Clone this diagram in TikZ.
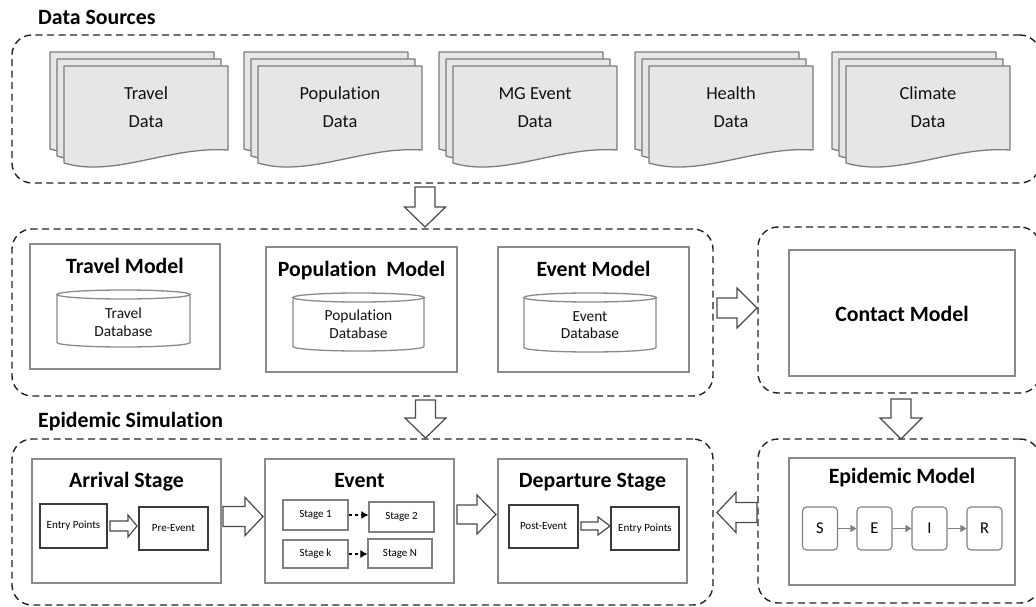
\documentclass[tikz,border=0pt]{standalone}
\usepackage{fontspec}
\setmainfont{Carlito}[Ligatures=NoCommon]
\usetikzlibrary{arrows.meta}

\definecolor{groupline}{HTML}{222222}
\definecolor{panelline}{HTML}{8A8A8A}
\definecolor{docline}{HTML}{7C7C7C}
\definecolor{docfill}{HTML}{E6E6E6}
\definecolor{arrowline}{HTML}{4A4A4A}
\definecolor{darkbox}{HTML}{3A3A3A}
\definecolor{stageline}{HTML}{808080}
\definecolor{inktext}{HTML}{111111}

% one sheet of a document stack: top-left corner (#1,#2), wavy lower edge
\newcommand{\docsheet}[2]{%
  \draw[docsheet] (#1,#2) -- (#1+164,#2) -- (#1+164,#2+84)
    .. controls (#1+105,#2+80) and (#1+50,#2+112) .. (#1,#2+97) -- cycle;}
% stack of three sheets; #1 name, #2 left x of front sheet, #3/#4 the two text lines
\newcommand{\docstack}[4]{%
  \docsheet{#2-14}{52}\docsheet{#2-7}{59}\docsheet{#2}{66}%
  \node[doctext] (#1-a) at (#2+82,100) {#3};
  \node[doctext] (#1-b) at (#2+82,128) {#4};}
% database cylinder: centre x, x radius, y of top rim, y of bottom rim
\newcommand{\dbcyl}[4]{%
  \draw[cyl] (#1-#2,#3) -- (#1-#2,#4)
    arc[start angle=180,end angle=360,x radius=#2pt,y radius=4.5pt] -- (#1+#2,#3);
  \draw[cyl] (#1,#3) ellipse[x radius=#2pt,y radius=4.5pt];}
% horizontal block arrow: tail x, head base x, tip x, centre y, shaft half width, head half width
\newcommand{\hblock}[6]{%
  \draw[blockarrow] (#1,#4-#5) -- (#2,#4-#5) -- (#2,#4-#6) -- (#3,#4)
    -- (#2,#4+#6) -- (#2,#4+#5) -- (#1,#4+#5) -- cycle;}
% vertical block arrow: centre x, tail y, head base y, tip y, shaft half width, head half width
\newcommand{\vblock}[6]{%
  \draw[blockarrow] (#1-#5,#2) -- (#1-#5,#3) -- (#1-#6,#3) -- (#1,#4)
    -- (#1+#6,#3) -- (#1+#5,#3) -- (#1+#5,#2) -- cycle;}

\begin{document}
\begin{tikzpicture}[x=1pt,y=-1pt,
  group/.style={draw=groupline,line width=1.4pt,dash pattern=on 7pt off 4.5pt,
    rounded corners=20pt,minimum width=#1},
  panel/.style={draw=panelline,line width=1.4pt,inner sep=0pt},
  heading/.style={font=\fontsize{21.8}{26}\selectfont\bfseries,text=black,inner sep=0pt},
  doctext/.style={font=\fontsize{18.4}{22}\selectfont,text=inktext,inner sep=0pt,anchor=base},
  dbtext/.style={font=\fontsize{15.4}{18}\selectfont,text=inktext,inner sep=0pt,anchor=base},
  docsheet/.style={draw=docline,fill=docfill,line width=1.3pt,line join=round},
  cyl/.style={draw=panelline,fill=white,line width=1.3pt},
  blockarrow/.style={draw=arrowline,fill=white,line width=1.2pt,line join=miter},
  innerbox/.style={draw=darkbox,line width=1.3pt,inner sep=0pt,
    font=\fontsize{11}{13}\selectfont},
  stagebox/.style={draw=stageline,line width=1.2pt,inner sep=0pt,
    font=\fontsize{11}{13}\selectfont},
  stagelink/.style={draw=black,line width=1.1pt,dash pattern=on 3.5pt off 2.5pt,
    -{Latex[length=7pt,width=8pt]}},
  seirbox/.style={draw=stageline,line width=1.1pt,rounded corners=4pt,inner sep=0pt,
    minimum width=35pt,minimum height=43pt,font=\fontsize{16.5}{19}\selectfont},
  seirlink/.style={draw=stageline,line width=1.2pt,-{Triangle[length=6pt,width=7pt]}},
]
\useasboundingbox (0,0) rectangle (1036,607);

% ---------- dashed groups ----------
\node[group=1028pt,minimum height=148pt] (sources) at (526,109) {};
\node[group=701pt,minimum height=167pt] (models) at (362.5,312.5) {};
\node[group=282pt,minimum height=166pt] (contactgrp) at (899,310) {};
\node[group=701pt,minimum height=166pt] (simgrp) at (362.5,522) {};
\node[group=282pt,minimum height=164pt] (epigrp) at (899,521) {};

\node[heading,anchor=base west] (srctitle) at (38,25) {Data Sources};
\node[heading,anchor=base west] (simtitle) at (38,427) {Epidemic Simulation};

% ---------- data sources ----------
\docstack{travel}{64}{Travel}{Data}
\docstack{population}{258}{Population}{Data}
\docstack{mgevent}{453}{MG Event}{Data}
\docstack{health}{649}{Health}{Data}
\docstack{climate}{846}{Climate}{Data}

% ---------- models ----------
\node[panel,minimum width=190pt,minimum height=125pt] (travelm) at (125,306.5) {};
\node[panel,minimum width=191pt,minimum height=125pt] (popm) at (361.5,309.5) {};
\node[panel,minimum width=191pt,minimum height=125pt] (eventm) at (593.5,309.5) {};
\node[heading,anchor=base] (travelm-t) at (125,273) {Travel Model};
\node[heading,anchor=base] (popm-t) at (361.5,276) {Population~ Model};
\node[heading,anchor=base] (eventm-t) at (593.5,276) {Event Model};

\dbcyl{123.5}{66.5}{294.5}{342.5}
\node[dbtext] (traveldb-a) at (123.5,318) {Travel};
\node[dbtext] (traveldb-b) at (123.5,336) {Database};
\dbcyl{358.5}{65.5}{297.5}{346.5}
\node[dbtext] (popdb-a) at (358.5,320) {Population};
\node[dbtext] (popdb-b) at (358.5,338) {Database};
\dbcyl{590}{66}{297.5}{347.5}
\node[dbtext] (eventdb-a) at (590,321) {Event};
\node[dbtext] (eventdb-b) at (590,338) {Database};

\node[panel,minimum width=226pt,minimum height=126pt] (contact) at (902,313) {};
\node[heading,anchor=base] (contact-t) at (902,321) {Contact Model};

% ---------- simulation ----------
\node[panel,minimum width=189pt,minimum height=124pt] (arrival) at (126.5,521) {};
\node[panel,minimum width=189pt,minimum height=124pt] (event) at (359.5,521) {};
\node[panel,minimum width=189pt,minimum height=124pt] (departure) at (592.5,521) {};
\node[heading,anchor=base] (arrival-t) at (126.5,487) {Arrival Stage};
\node[heading,anchor=base] (event-t) at (359.5,487) {Event};
\node[heading,anchor=base] (departure-t) at (592.5,487) {Departure Stage};

\node[innerbox,minimum width=67pt,minimum height=44pt] (entryin) at (73.5,526) {Entry Points};
\node[innerbox,minimum width=69pt,minimum height=43pt] (preevent) at (173.5,528.5) {Pre-Event};
\hblock{110}{128}{137}{526}{5}{11}

\node[stagebox,minimum width=65pt,minimum height=30pt] (stage1) at (315.5,515) {Stage 1};
\node[stagebox,minimum width=65pt,minimum height=30pt] (stage2) at (401.5,517) {Stage 2};
\node[stagebox,minimum width=65pt,minimum height=28pt] (stagek) at (315.5,554) {Stage k};
\node[stagebox,minimum width=64pt,minimum height=29pt] (stageN) at (400,553.5) {Stage N};
\draw[stagelink] (stage1.east) -- (stage1.east -| stage2.west);
\draw[stagelink] (stagek.east) -- (stagek.east -| stageN.west);

\node[innerbox,minimum width=69pt,minimum height=43pt] (postevent) at (543.5,526.5) {Post-Event};
\node[innerbox,minimum width=68pt,minimum height=43pt] (entryout) at (645,528.5) {Entry Points};
\hblock{581}{598}{610}{526}{4}{9}

% ---------- epidemic model ----------
\node[panel,minimum width=226pt,minimum height=127pt] (epimodel) at (902,521.5) {};
\node[heading,anchor=base] (epimodel-t) at (902,483) {Epidemic Model};
\node[seirbox] (S) at (820,528.5) {S};
\node[seirbox] (E) at (874.5,528.5) {E};
\node[seirbox] (I) at (929.5,528.5) {I};
\node[seirbox] (R) at (984.5,528.5) {R};
\draw[seirlink] (S) -- (E);
\draw[seirlink] (E) -- (I);
\draw[seirlink] (I) -- (R);

% ---------- flow between groups ----------
\vblock{425}{187}{207}{227}{10}{20.5}
\hblock{717}{737}{757}{308}{10}{20}
\vblock{425.5}{400}{418}{438}{10}{20.5}
\vblock{901}{399}{418}{439}{10}{21}
\hblock{757}{736}{717}{512.5}{10}{20}
\hblock{223}{245}{263}{516.5}{10}{19}
\hblock{457}{477}{496}{514.5}{9.5}{19.5}
\end{tikzpicture}
\end{document}
